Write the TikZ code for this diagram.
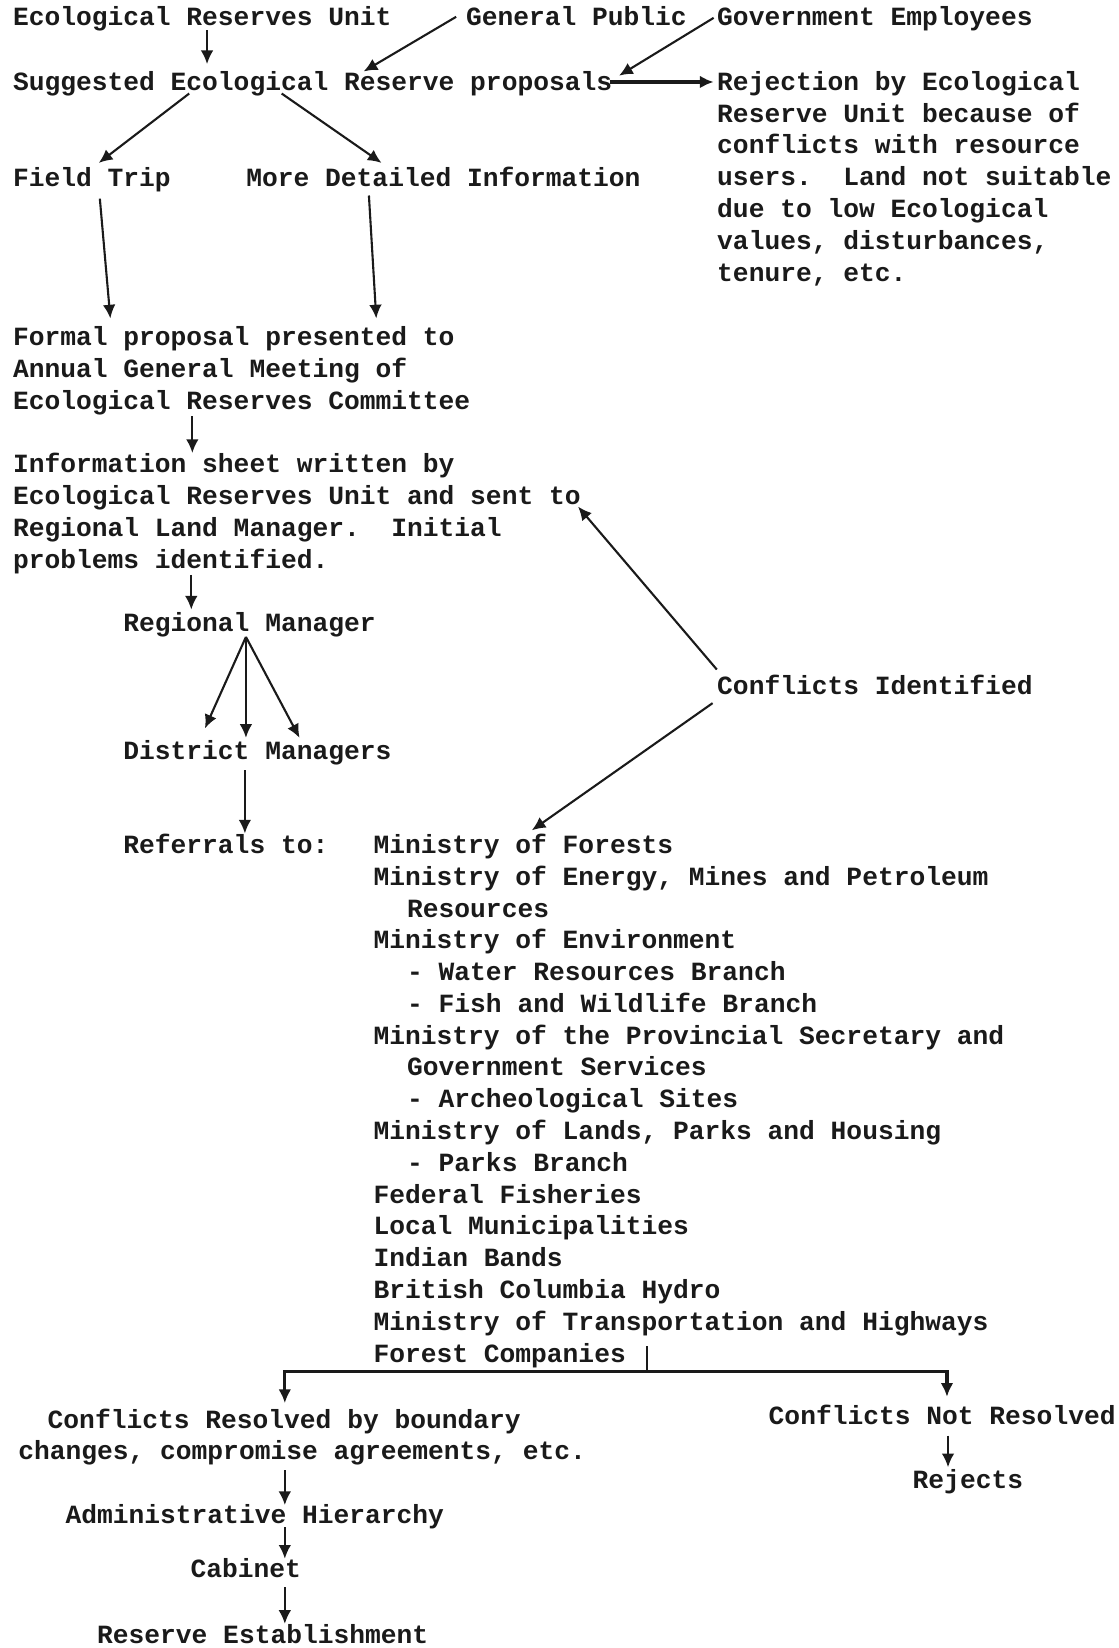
\documentclass[tikz,border=0pt]{standalone}
\usepackage{fontspec}
\setmonofont{Liberation Mono}
\usepackage{tikz}
\usetikzlibrary{arrows.meta, calc}
\definecolor{ink}{HTML}{1A1A1A}
\newcommand{\ind}{\hspace*{16pt}}
\tikzset{
  >=Latex,
  txt/.style={
    anchor=base west, inner sep=0pt, align=left, text=ink,
    font=\fontsize{12.5pt}{15.125pt}\selectfont\ttfamily\bfseries
  },
  arr/.style={-{Latex[length=6.5pt,width=6pt]}, line width=1pt, draw=ink},
  heavy/.style={arr, line width=2pt},
  bar/.style={arr, line width=1.5pt}
}

\begin{document}
\begin{tikzpicture}[x=0.5pt, y=-0.5pt]
  \useasboundingbox (0,0) rectangle (1064,1568);

  % top of the chart (multi-line nodes sit on their last baseline)
  \node[txt] (eru) at (12,24) {Ecological Reserves Unit};
  \node[txt] (gp) at (443,24) {General Public};
  \node[txt] (ge) at (682,24) {Government Employees};
  \node[txt] (sug) at (12,86) {Suggested Ecological Reserve proposals};
  \node[txt] (rej) at (682,267.5)
    {Rejection by Ecological\\Reserve Unit because of\\conflicts with resource\\users.\ \ Land not suitable\\due to low Ecological\\values, disturbances,\\tenure, etc.};
  \node[txt] (ft) at (12,177) {Field Trip};
  \node[txt] (mdi) at (234,177) {More Detailed Information};
  \node[txt] (formal) at (12,389.5)
    {Formal proposal presented to\\Annual General Meeting of\\Ecological Reserves Committee};
  \node[txt] (info) at (12,540.75)
    {Information sheet written by\\Ecological Reserves Unit and sent to\\Regional Land Manager.\ \ Initial\\problems identified.};
  \node[txt] (rm) at (117,601) {Regional Manager};
  \node[txt] (ci) at (682,661) {Conflicts Identified};
  \node[txt] (dm) at (117,723) {District Managers};

  % referrals
  \node[txt] (refto) at (117,812) {Referrals to:};
  \node[txt] (mins) at (355,1296)
    {Ministry of Forests\\Ministry of Energy, Mines and Petroleum\\\ind Resources\\Ministry of Environment\\\ind - Water Resources Branch\\\ind - Fish and Wildlife Branch\\Ministry of the Provincial Secretary and\\\ind Government Services\\\ind - Archeological Sites\\Ministry of Lands, Parks and Housing\\\ind - Parks Branch\\Federal Fisheries\\Local Municipalities\\Indian Bands\\British Columbia Hydro\\Ministry of Transportation and Highways\\Forest Companies};

  % outcome
  \node[txt] (cres) at (17,1389)
    {\hspace*{14pt}Conflicts Resolved by boundary\\changes, compromise agreements, etc.};
  \node[txt] (cnr) at (731,1355) {Conflicts Not Resolved};
  \node[txt] (rejects) at (868,1416) {Rejects};
  \node[txt] (admin) at (62,1450) {Administrative Hierarchy};
  \node[txt] (cab) at (181,1501) {Cabinet};
  \node[txt] (res) at (92,1564) {Reserve Establishment};

  % arrows
  \draw[arr] ($(eru.base west)+(185,5)$) -- ($(sug.base west)+(185,-25)$);
  \draw[arr] ($(gp.base west)+(-9,-8)$) -- ($(sug.base west)+(334,-18)$);
  \draw[arr] ($(ge.base west)+(-3,-7)$) -- ($(sug.base west)+(577,-14)$);
  \draw[heavy] ($(sug.base west)+(568,-8)$) -- ($(rej.base west)+(-3,-189.5)$);
  \draw[arr] ($(sug.base west)+(168,3)$) -- ($(ft.base west)+(82,-22)$);
  \draw[arr] ($(sug.base west)+(256,3)$) -- ($(mdi.base west)+(129,-22)$);
  \draw[arr] ($(ft.base west)+(83,12)$) -- ($(formal.base west)+(93,-86.5)$);
  \draw[arr] ($(mdi.base west)+(117,9)$) -- ($(formal.base west)+(346,-86.5)$);
  \draw[arr] ($(formal.base west)+(171,6.5)$) -- ($(info.base west)+(171,-109.75)$);
  \draw[arr] ($(info.base west)+(170,6.25)$) -- ($(rm.base west)+(65,-21)$);
  \draw[arr] ($(rm.base west)+(117,5)$) -- ($(dm.base west)+(78,-30)$);
  \draw[arr] ($(rm.base west)+(117,5)$) -- ($(dm.base west)+(117,-21)$);
  \draw[arr] ($(rm.base west)+(117,5)$) -- ($(dm.base west)+(168,-21)$);
  \draw[arr] ($(ci.base west)+(0,-24)$) -- ($(info.base west)+(538,-58.75)$);
  \draw[arr] ($(ci.base west)+(-4,8)$) -- ($(mins.base west)+(151,-506)$);
  \draw[arr] ($(dm.base west)+(116,10)$) -- ($(refto.base west)+(116,-19)$);

  \coordinate (split) at ($(mins.base west)+(261,9)$);
  \draw[line width=1pt, draw=ink] ($(mins.base west)+(261,-15)$) -- (split);
  \draw[bar] (split) -| ($(cres.base west)+(254,-54)$);
  \draw[bar] (split) -| ($(cnr.base west)+(170,-26)$);

  \draw[arr] ($(cres.base west)+(254,10)$) -- ($(admin.base west)+(209,-18)$);
  \draw[arr] ($(admin.base west)+(209,3)$) -- ($(cab.base west)+(90,-18)$);
  \draw[arr] ($(cab.base west)+(90,9)$) -- ($(res.base west)+(179,-19)$);
  \draw[arr] ($(cnr.base west)+(171,11)$) -- ($(rejects.base west)+(34,-20)$);
\end{tikzpicture}
\end{document}
